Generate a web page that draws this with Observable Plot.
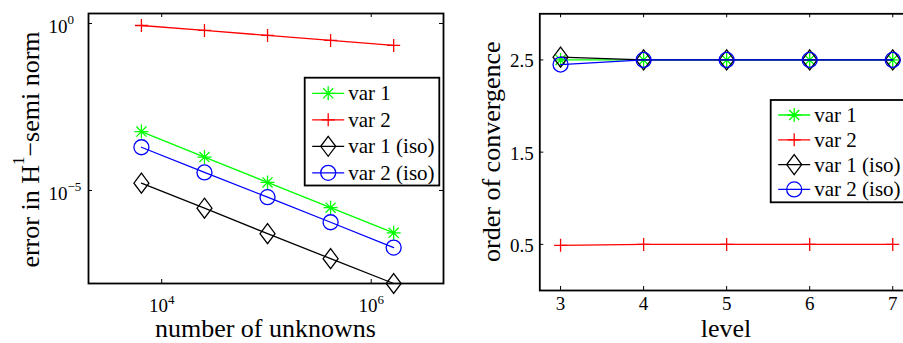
<!DOCTYPE html>
<html><head><meta charset="utf-8">
<script src="https://cdn.jsdelivr.net/npm/d3@7"></script>
<script src="https://cdn.jsdelivr.net/npm/@observablehq/plot@0.6"></script>
<style>
html,body{margin:0;padding:0;background:#fff;overflow:hidden;width:903px;height:343px}
#wrap{position:relative;width:903px;height:343px;overflow:hidden;font-family:'Liberation Serif','DejaVu Serif',serif}
#wrap svg{position:absolute;top:0}
#wrap svg text{font-family:'Liberation Serif','DejaVu Serif',serif !important}
</style></head><body><div id="wrap"></div>
<script>
// ---- data ----
const seriesNames = ["var 1", "var 2", "var 1 (iso)", "var 2 (iso)"];
const unknowns = [6400, 25600, 102400, 409600, 1638400];
const errVar1    = [5.8e-4, 1.0e-4, 1.74e-5, 3.05e-6, 5.4e-7];
const errVar2    = [0.87, 0.62, 0.44, 0.31, 0.22];
const errVar1Iso = [1.66e-5, 2.95e-6, 5.1e-7, 9.1e-8, 1.64e-8];
const errVar2Iso = [1.97e-4, 3.46e-5, 6.3e-6, 1.12e-6, 1.95e-7];
const levels = [3, 4, 5, 6, 7];
const rateVar1    = [2.50, 2.50, 2.50, 2.50, 2.50];
const rateVar2    = [0.49, 0.50, 0.50, 0.50, 0.50];
const rateVar1Iso = [2.53, 2.50, 2.50, 2.50, 2.50];
const rateVar2Iso = [2.45, 2.50, 2.50, 2.50, 2.50];
const xTicksLeft = [1e4, 1e6];
const yTicksLeft = [1e-5, 1e0];
const xTicksRight = [3, 4, 5, 6, 7];
const yTicksRight = [0.5, 1.5, 2.5];

const errors = [errVar1, errVar2, errVar1Iso, errVar2Iso];
const rates = [rateVar1, rateVar2, rateVar1Iso, rateVar2Iso];

// ---- style ----
const FONT = "'Liberation Serif','DejaVu Serif',serif";
const colors = ["#00ff00", "#ff0000", "#000000", "#0000ff"];
const symAsterisk = {draw(ctx, size) {const r = Math.sqrt(size / Math.PI), d = r * 0.72;
  ctx.moveTo(-r, 0); ctx.lineTo(r, 0); ctx.moveTo(0, -r); ctx.lineTo(0, r);
  ctx.moveTo(-d, -d); ctx.lineTo(d, d); ctx.moveTo(-d, d); ctx.lineTo(d, -d);}};
const symPlus = {draw(ctx, size) {const r = Math.sqrt(size / Math.PI);
  ctx.moveTo(-r, 0); ctx.lineTo(r, 0); ctx.moveTo(0, -r); ctx.lineTo(0, r);}};
const symDiamond = {draw(ctx, size) {const r = Math.sqrt(size / Math.PI);
  ctx.moveTo(0, -r * 1.33); ctx.lineTo(r, 0); ctx.lineTo(0, r * 1.33); ctx.lineTo(-r, 0); ctx.closePath();}};
const symCircle = {draw(ctx, size) {const r = Math.sqrt(size / Math.PI);
  ctx.moveTo(r, 0); ctx.arc(0, 0, r, 0, 2 * Math.PI);}};
const symbols = [symAsterisk, symPlus, symDiamond, symCircle];
const radii = [7, 6.5, 7.5, 7.5];

function rowsFor(xs, ys) {
  return seriesNames.flatMap((s, i) => xs.map((x, j) => ({series: s, idx: i, x, y: ys[i][j]})));
}
function seriesMarks(rows) {
  return seriesNames.flatMap((s, i) => {
    const d = rows.filter(r => r.idx === i);
    return [
      Plot.line(d, {x: "x", y: "y", stroke: colors[i], strokeWidth: 1.3}),
      Plot.dot(d, {x: "x", y: "y", stroke: colors[i], fill: "none", strokeWidth: 1.3, symbol: symbols[i], r: radii[i]})
    ];
  });
}
function inwardTicks(xt, yt, fw, fh) {
  return [
    Plot.tickX(xt, {x: d => d, insetTop: fh - 4, stroke: "black", strokeWidth: 1}),
    Plot.tickX(xt, {x: d => d, insetBottom: fh - 4, stroke: "black", strokeWidth: 1}),
    Plot.tickY(yt, {y: d => d, insetRight: fw - 4, stroke: "black", strokeWidth: 1}),
    Plot.tickY(yt, {y: d => d, insetLeft: fw - 4, stroke: "black", strokeWidth: 1})
  ];
}
function supify(svg, sel, supSize, supDy) {
  d3.select(svg).selectAll(sel).each(function() {
    const t = this.textContent;
    const [base, exp] = t.split("^");
    const el = d3.select(this); el.text(null);
    el.append("tspan").text(base);
    el.append("tspan").attr("dy", supDy).attr("font-size", supSize).text(exp.replace("-", "\u2212"));
  });
}
function addLegend(svg, x0, y0, w, h, first, step) {
  const g = d3.select(svg).append("g").attr("font-family", FONT).attr("font-size", 21).attr("text-anchor", "start");
  g.append("rect").attr("x", x0).attr("y", y0).attr("width", w).attr("height", h)
    .attr("fill", "white").attr("stroke", "black").attr("stroke-width", 1.8);
  seriesNames.forEach((s, i) => {
    const y = y0 + first + step * i;
    g.append("line").attr("x1", x0 + 7.5).attr("x2", x0 + 39.5).attr("y1", y).attr("y2", y)
      .attr("stroke", colors[i]).attr("stroke-width", 1.3);
    g.append("path").attr("d", d3.symbol(symbols[i], Math.PI * radii[i] * radii[i])())
      .attr("transform", `translate(${x0 + 23.5},${y})`).attr("fill", "none")
      .attr("stroke", colors[i]).attr("stroke-width", 1.3);
    g.append("text").attr("x", x0 + 43.6).attr("y", y + 7).attr("fill", "black")
      .attr("text-anchor", "start").text(s);
  });
}
function addLabel(svg, text, x, y, rotate, supParts) {
  const t = d3.select(svg).append("text").attr("font-family", FONT).attr("font-size", 26)
    .attr("fill", "black").attr("text-anchor", "middle")
    .attr("transform", `translate(${x},${y})` + (rotate ? " rotate(-90)" : ""));
  if (supParts) {
    t.append("tspan").text(supParts[0]);
    t.append("tspan").attr("dy", -15).attr("font-size", 17).text(supParts[1]);
    t.append("tspan").attr("dy", 15).text(supParts[2]);
  } else t.text(text);
}

const wrap = document.getElementById("wrap");
const baseStyle = {fontFamily: FONT, fontSize: "19px", color: "black", background: "none", overflow: "visible"};

// ---- left plot ----
{
  const W = 450, H = 343, mL = 88, mR = 7, mT = 13, mB = 60;
  const fw = W - mL - mR, fh = H - mT - mB;
  const svg = Plot.plot({
    width: W, height: H, marginLeft: mL, marginRight: mR, marginTop: mT, marginBottom: mB,
    x: {type: "log", domain: [2000, 4.9e6], label: null},
    y: {type: "log", domain: [1.64e-8, 1.99], label: null},
    style: baseStyle,
    marks: [
      ...seriesMarks(rowsFor(unknowns, errors)),
      ...inwardTicks(xTicksLeft, yTicksLeft, fw, fh),
      Plot.frame({stroke: "black", strokeWidth: 1.8}),
      Plot.axisX({ticks: xTicksLeft, tickSize: 0, tickPadding: 15, label: null, fontSize: 19,
        tickFormat: d => "10^" + Math.round(Math.log10(d))}),
      Plot.axisY({ticks: yTicksLeft, tickSize: 0, tickPadding: 0, dx: -40, dy: 3, textAnchor: "start", label: null, fontSize: 19,
        tickFormat: d => "10^" + Math.round(Math.log10(d))})
    ]
  });
  svg.style.left = "0px";
  wrap.appendChild(svg);
  supify(svg, 'g[aria-label="x-axis tick label"] text', 13, -8);
  supify(svg, 'g[aria-label="y-axis tick label"] text', 13, -9);
  addLegend(svg, 304.7, 77.7, 134.6, 107.8, 15.6, 26.5);
  addLabel(svg, "number of unknowns", 265.4, 337, false);
  addLabel(svg, null, 38.5, 149.5, true, ["error in H", "1", "\u2212semi norm"]);
  d3.select(svg).selectAll("text").style("font-family", FONT);
}

// ---- right plot ----
{
  const W = 463, H = 343, mL = 89.3, mR = 0, mT = 13.3, mB = 53;
  const fw = W - mL - mR, fh = H - mT - mB;
  const svg = Plot.plot({
    width: W, height: H, marginLeft: mL, marginRight: mR, marginTop: mT, marginBottom: mB,
    x: {domain: [2.75, 7.25], label: null},
    y: {domain: [0, 3], label: null},
    style: baseStyle,
    marks: [
      ...seriesMarks(rowsFor(levels, rates)),
      ...inwardTicks(xTicksRight, yTicksRight, fw, fh),
      Plot.frame({stroke: "black", strokeWidth: 1.8}),
      Plot.axisX({ticks: xTicksRight, tickSize: 0, tickPadding: 6, label: null, fontSize: 19, tickFormat: d => String(d)}),
      Plot.axisY({ticks: yTicksRight, tickSize: 0, tickPadding: 6, dy: 1.3, label: null, fontSize: 19, tickFormat: d => d.toFixed(1)})
    ]
  });
  svg.style.left = "450px";
  wrap.appendChild(svg);
  addLegend(svg, 320.7, 100, 134.6, 102.3, 15, 24.8);
  addLabel(svg, "level", 276, 337, false);
  addLabel(svg, "order of convergence", 50, 151.7, true);
  d3.select(svg).selectAll("text").style("font-family", FONT);
}
</script></body></html>
